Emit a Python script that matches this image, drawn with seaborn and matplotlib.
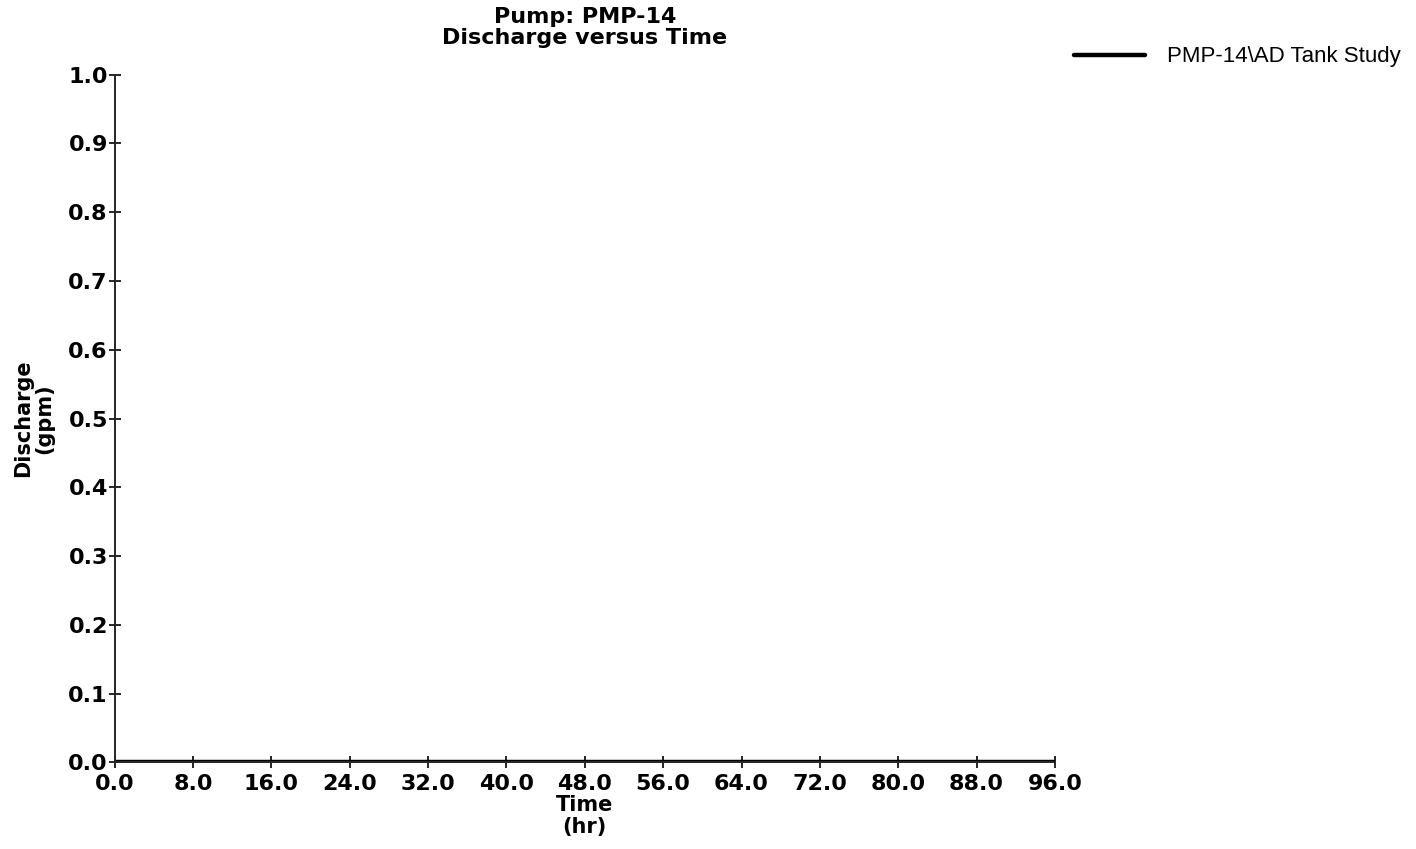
import pandas as pd
import matplotlib as mpl
import matplotlib.pyplot as plt
import seaborn as sns

# values: discharge stays at 0 over the whole run
time_hr = [0.0, 8.0, 16.0, 24.0, 32.0, 40.0, 48.0, 56.0, 64.0, 72.0, 80.0, 88.0, 96.0]
discharge_gpm = [0.0, 0.0, 0.0, 0.0, 0.0, 0.0, 0.0, 0.0, 0.0, 0.0, 0.0, 0.0, 0.0]
series_name = 'PMP-14\\AD Tank Study'

x_ticks = [0, 8, 16, 24, 32, 40, 48, 56, 64, 72, 80, 88, 96]
y_ticks = [0.0, 0.1, 0.2, 0.3, 0.4, 0.5, 0.6, 0.7, 0.8, 0.9, 1.0]

df = pd.DataFrame({'time': time_hr, 'discharge': discharge_gpm, 'series': series_name})

sns.set_style('ticks')
plt.rcParams['font.family'] = ['DejaVu Sans']
plt.rcParams['text.color'] = 'black'

fig = plt.figure(figsize=[14.16, 8.49], dpi=100)
ax = fig.add_axes([0.081, 0.102, 0.664, 0.81])

sns.lineplot(data=df, x='time', y='discharge', hue='series',
             palette=['black'], linewidth=3.2, ax=ax)

ax.set_xlim(0, 96)
ax.set_ylim(0, 1.0)
ax.set_xticks(x_ticks)
ax.set_yticks(y_ticks)
ax.xaxis.set_major_formatter(mpl.ticker.FormatStrFormatter('%.1f'))
ax.yaxis.set_major_formatter(mpl.ticker.FormatStrFormatter('%.1f'))
ax.tick_params(direction='inout', length=8, width=1.2, colors='black',
               labelsize=16, pad=1)
ax.tick_params(axis='x', pad=4)
for lab in ax.get_xticklabels() + ax.get_yticklabels():
  lab.set_fontweight('bold')

sns.despine(ax=ax)
ax.spines['left'].set_linewidth(1.4)
ax.spines['bottom'].set_linewidth(1.4)

ax.set_xlabel('Time\n(hr)', fontsize=15, fontweight='bold', labelpad=1,
              linespacing=1.15, color='black')
ax.set_ylabel('Discharge\n(gpm)', fontsize=15, fontweight='bold', labelpad=10,
              linespacing=1.1, color='black')
ax.set_title('Pump: PMP-14\nDischarge versus Time', fontsize=16, fontweight='bold',
             pad=22, linespacing=1.05, color='black')

leg = ax.legend(loc='center left', bbox_to_anchor=(0.744, 0.933),
                bbox_transform=fig.transFigure, frameon=False,
                prop={'family': 'Liberation Sans', 'size': 16},
                handlelength=3.2, handletextpad=1.0, labelcolor='black')
for line in leg.get_lines():
  line.set_linewidth(3.2)

fig.savefig('out.png', dpi=100)
